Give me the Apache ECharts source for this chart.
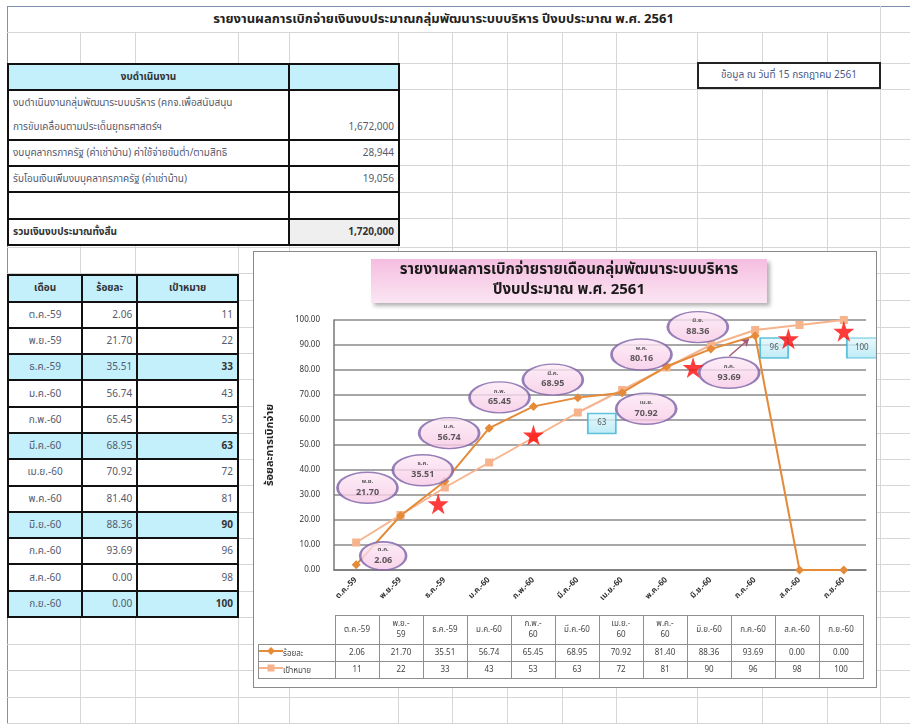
<!DOCTYPE html>
<html>
<head>
<meta charset="utf-8">
<script src="https://cdn.jsdelivr.net/npm/echarts@6/dist/echarts.min.js"></script>
<style>
  body { margin: 0; background: #fff; font-family: Tahoma, 'Noto Sans Thai', 'DejaVu Sans', sans-serif; }
  #sheet { position: relative; width: 910px; height: 724px; overflow: hidden; background: #fff; }
  .gl { position: absolute; background: #d6d6d6; }
  .tbl { position: absolute; border-collapse: collapse; background: #fff; font-size: 10px; color: #555a6e; }
  .tbl td { border: 2px solid #111; padding: 0 4px; white-space: nowrap; overflow: hidden; }
  .hd { background: #c4f0fc; font-weight: bold; text-align: center; color: #333; }
  .num { text-align: right; }
  .ctr { text-align: center; }
  .q { background: #c4f0fc; }
  #title { position: absolute; left: 7px; top: 6px; width: 873px; height: 26px; line-height: 26px;
    text-align: center; font-weight: bold; font-size: 13px; color: #222; }
  #datebox { position: absolute; left: 697px; top: 62px; width: 180px; height: 23px; line-height: 23px;
    border: 2px solid #222; background: #fff; text-align: center; font-size: 10px; color: #4a5a8a; }
  #chartbox { position: absolute; left: 253px; top: 251px; width: 622px; height: 435px;
    border: 1px solid #8a8a8a; background: #fff; }
  #chart { position: absolute; left: 0; top: 0; width: 622px; height: 435px; }
  #dtab { position: absolute; left: 4px; top: 363px; border-collapse: collapse; font-size: 8px; color: #444; }
  #dtab td { border: 1px solid #8f8f8f; text-align: center; padding: 0; line-height: 11px; }
  #dtab td.blank { border: none; }
</style>
</head>
<body>
<div id="sheet">
  <div id="title">รายงานผลการเบิกจ่ายเงินงบประมาณกลุ่มพัฒนาระบบบริหาร ปีงบประมาณ พ.ศ. 2561</div>
  <div id="datebox">ข้อมูล ณ วันที่ 15 กรกฎาคม 2561</div>
  <div id="chartbox">
    <div id="chart"></div>
  </div>
</div>
<script>
// ---- data ----
const months = ['ต.ค.-59', 'พ.ย.-59', 'ธ.ค.-59', 'ม.ค.-60', 'ก.พ.-60', 'มี.ค.-60',
                'เม.ย.-60', 'พ.ค.-60', 'มิ.ย.-60', 'ก.ค.-60', 'ส.ค.-60', 'ก.ย.-60'];
const pct = [2.06, 21.70, 35.51, 56.74, 65.45, 68.95, 70.92, 81.40, 88.36, 93.69, 0.00, 0.00];
const target = [11, 22, 33, 43, 53, 63, 72, 81, 90, 96, 98, 100];

const budgetItems = ['งบดำเนินงานกลุ่มพัฒนาระบบบริหาร (คกจ.เพื่อสนับสนุน<br>การขับเคลื่อนตามประเด็นยุทธศาสตร์ฯ',
                     'งบบุคลากรภาครัฐ (ค่าเช่าบ้าน) ค่าใช้จ่ายขั้นต่ำ/ตามสิทธิ',
                     'รับโอนเงินเพิ่มงบบุคลากรภาครัฐ (ค่าเช่าบ้าน)'];
const budgetValues = [1672000, 28944, 19056];

// callouts on the ร้อยละ line (month index, text shown)
const calloutIdx = [0, 1, 2, 3, 4, 5, 6, 7, 8, 9];
const calloutText = ['2.06', '21.70', '35.51', '56.74', '65.45', '68.95', '70.92', '80.16', '88.36', '93.69'];
// boxes on the เป้าหมาย line
const boxIdx = [5, 9, 11];
// red stars (position on month scale, percent)
const starX = [1.85, 4.0, 7.6, 9.75, 11.0];
const starY = [26.5, 54, 81, 92.5, 95.5];

// ---- layout only ----
const calloutOffset = [[27,-9],[-33,-28],[-22,-11],[-40,5],[-34,-9],[-25,-18],[24,16],[-25,-12],[-13,-22],[-26,37]];
const boxOffset = [[24,11],[19,18],[18,28]];
const wrapIdx = [1, 4, 6, 7];

// spreadsheet grid lines
const sheet = document.getElementById('sheet');
const colX = [7, 80, 135, 238, 289, 398, 452, 507, 562, 616, 697, 762, 827, 880];
const rowY = [32, 63, 89, 139, 165, 192, 218, 247, 273, 300, 327, 353, 379, 406, 433, 459, 485, 512, 538, 564, 591, 617, 644, 670, 697, 723];
function line(x, y, w, h, color) {
  const d = document.createElement('div');
  d.className = 'gl';
  d.style.left = x + 'px'; d.style.top = y + 'px';
  d.style.width = w + 'px'; d.style.height = h + 'px';
  if (color) d.style.background = color;
  sheet.insertBefore(d, sheet.firstChild);
}
rowY.forEach(y => line(7, y, 903, 1));
colX.forEach(x => {
  if (x === 7) line(x, 6, 1, 718, '#7f8fae');
  else if (x === 880) line(x, 6, 1, 718);
  else line(x, 32, 1, 692);
});
line(7, 6, 903, 1, '#7f8fae');

// budget table
let h = '<tr style="height:26px"><td class="hd" style="width:273px">งบดำเนินงาน</td><td class="hd" style="width:102px"></td></tr>';
const rowH = [50, 26, 26];
budgetItems.forEach((t, i) => {
  h += '<tr style="height:' + rowH[i] + 'px"><td style="line-height:24px">' + t + '</td><td class="num" style="vertical-align:bottom;line-height:24px">' +
       budgetValues[i].toLocaleString('en-US') + '</td></tr>';
});
h += '<tr style="height:27px"><td></td><td></td></tr>';
const total = budgetValues.reduce((a, b) => a + b, 0);
h += '<tr style="height:26px"><td style="font-weight:bold;color:#333">รวมเงินงบประมาณทั้งสิ้น</td><td class="num" style="font-weight:bold;color:#333;background:#efefef">' +
     total.toLocaleString('en-US') + '</td></tr>';
const bt = document.createElement('table');
bt.className = 'tbl'; bt.style.left = '7px'; bt.style.top = '63px'; bt.style.width = '393px';
bt.innerHTML = h;
sheet.appendChild(bt);

// month table
let m = '<tr style="height:26.5px"><td class="hd" style="width:66px">เดือน</td><td class="hd" style="width:46px">ร้อยละ</td><td class="hd" style="width:94px">เป้าหมาย</td></tr>';
months.forEach((mo, i) => {
  const q = (i % 3 === 2) ? ' q' : '';
  const b = (i % 3 === 2) ? 'font-weight:bold;color:#333;' : '';
  m += '<tr style="height:26.3px"><td class="ctr' + q + '">' + mo + '</td><td class="num' + q + '">' + pct[i].toFixed(2) +
       '</td><td class="num' + q + '" style="' + b + '">' + target[i] + '</td></tr>';
});
const mt = document.createElement('table');
mt.className = 'tbl'; mt.style.left = '7px'; mt.style.top = '274px'; mt.style.width = '232px';
mt.innerHTML = m;
sheet.appendChild(mt);

// data table under the chart
const key1 = '<svg width="24" height="10"><line x1="0" y1="5" x2="24" y2="5" stroke="#e48a38" stroke-width="2"/><path d="M12 1 L16 5 L12 9 L8 5 Z" fill="#e48a38"/></svg>';
const key2 = '<svg width="24" height="10"><line x1="0" y1="5" x2="24" y2="5" stroke="#f6b38c" stroke-width="2"/><rect x="8.5" y="1.5" width="7" height="7" fill="#f6b38c"/></svg>';
let d = '<tr style="height:29px"><td class="blank" style="width:76px"></td>';
months.forEach((mo, i) => {
  const txt = wrapIdx.indexOf(i) >= 0 ? mo.replace('-', '-<br>') : mo;
  d += '<td style="width:43px">' + txt + '</td>';
});
d += '</tr><tr style="height:17px"><td style="text-align:left">' + key1 + 'ร้อยละ</td>';
pct.forEach(v => { d += '<td>' + v.toFixed(2) + '</td>'; });
d += '</tr><tr style="height:17px"><td style="text-align:left">' + key2 + 'เป้าหมาย</td>';
target.forEach(v => { d += '<td>' + v + '</td>'; });
d += '</tr>';
const dt = document.createElement('table');
dt.id = 'dtab';
dt.innerHTML = d;
document.getElementById('chartbox').appendChild(dt);

// ---- chart ----
const chart = echarts.init(document.getElementById('chart'));
const ellipse = 'path://M0 50 A50 50 0 1 1 100 50 A50 50 0 1 1 0 50 Z';
const star = 'path://M50 0 L61 35 L98 35 L68 57 L79 91 L50 70 L21 91 L32 57 L2 35 L39 35 Z';

const calloutData = calloutIdx.map((idx, k) => ({
  value: [idx, pct[idx]],
  symbolOffset: calloutOffset[k],
  symbolSize: k === 0 ? [46, 28] : [60, 31],
  label: {
    formatter: '{m|' + months[idx].split('-')[0] + '}\n{v|' + calloutText[k] + '}'
  }
}));
const boxData = boxIdx.map((idx, k) => ({
  value: [idx, target[idx]],
  symbolOffset: boxOffset[k],
  symbolSize: idx === 11 ? [30, 20] : [28, 20],
  label: { formatter: String(target[idx]) }
}));

chart.setOption({
  animation: false,
  textStyle: { fontFamily: "Tahoma, 'Noto Sans Thai', 'DejaVu Sans', sans-serif" },
  graphic: [{
    type: 'group',
    children: [{
      type: 'rect',
      shape: { x: 117, y: 7, width: 396, height: 44 },
      style: {
        fill: new echarts.graphic.LinearGradient(0, 0, 0, 1, [
          { offset: 0, color: '#f5bde0' }, { offset: 1, color: '#fbe6f3' }]),
        shadowBlur: 4, shadowOffsetX: 3, shadowOffsetY: 3, shadowColor: 'rgba(0,0,0,0.3)'
      }
    }, {
      type: 'text',
      style: {
        x: 315, y: 29, text: 'รายงานผลการเบิกจ่ายรายเดือนกลุ่มพัฒนาระบบบริหาร\nปีงบประมาณ พ.ศ. 2561',
        align: 'center', verticalAlign: 'middle', font: "bold 15px Tahoma, 'Noto Sans Thai', sans-serif",
        fill: '#1a1a1a', lineHeight: 20
      }
    }]
  }],
  grid: { left: 80, top: 68, width: 532, height: 250 },
  xAxis: [{
    type: 'category',
    data: months,
    axisLine: { lineStyle: { color: '#777', width: 1.5 } },
    axisTick: { show: false },
    axisLabel: { rotate: 45, fontSize: 8, fontWeight: 'bold', color: '#333', margin: 9 }
  }, {
    type: 'value', min: -0.5, max: 11.5, show: false
  }],
  yAxis: {
    type: 'value', min: 0, max: 100, interval: 10,
    name: 'ร้อยละการเบิกจ่าย', nameLocation: 'middle', nameGap: 58,
    nameTextStyle: { fontSize: 11, fontWeight: 'bold', color: '#222' },
    axisLine: { show: true, onZero: false, lineStyle: { color: '#777', width: 1.5 } },
    axisTick: { show: false },
    axisLabel: { fontSize: 8, color: '#333', formatter: v => v.toFixed(2), margin: 14 },
    splitLine: { lineStyle: { color: '#8a8a8a', width: 1.5 } }
  },
  series: [{
    name: 'เป้าหมาย', type: 'line', data: target,
    symbol: 'rect', symbolSize: 8, showAllSymbol: true,
    itemStyle: { color: '#f6b38c' }, lineStyle: { color: '#f6b38c', width: 2 }, z: 2
  }, {
    name: 'ร้อยละ', type: 'line', data: pct,
    symbol: 'diamond', symbolSize: 9, showAllSymbol: true,
    itemStyle: { color: '#e48a38' }, lineStyle: { color: '#e48a38', width: 2 }, z: 3
  }, {
    name: 'callout', type: 'scatter', data: calloutData, z: 5,
    symbol: ellipse,
    itemStyle: {
      color: new echarts.graphic.LinearGradient(0, 0, 0, 1, [
        { offset: 0, color: '#fdeaf6' }, { offset: 1, color: '#f6c7e4' }]),
      borderColor: '#7d62a6', borderWidth: 2
    },
    label: {
      show: true, position: 'inside', lineHeight: 11,
      rich: {
        m: { fontSize: 6, fontWeight: 'bold', color: '#333', lineHeight: 10 },
        v: { fontSize: 9, fontWeight: 'bold', color: '#333', lineHeight: 12 }
      }
    }
  }, {
    name: 'box', type: 'scatter', data: boxData, z: 5,
    symbol: 'rect',
    itemStyle: {
      color: new echarts.graphic.LinearGradient(0, 0, 0, 1, [
        { offset: 0, color: '#e4f8fd' }, { offset: 1, color: '#aee6f5' }]),
      borderColor: '#3cb3d3', borderWidth: 1.5
    },
    label: { show: true, position: 'inside', fontSize: 8, color: '#333' }
  }, {
    name: 'star', type: 'scatter', xAxisIndex: 1, z: 6,
    data: starX.map((x, i) => [x, starY[i]]),
    symbol: star, symbolSize: 21,
    itemStyle: { color: '#ff0a0a' },
    markLine: {
      silent: true, symbol: ['none', 'arrow'], symbolSize: 7,
      label: { show: false },
      lineStyle: { color: '#a65a78', width: 1.5, type: 'solid' },
      data: [[{ coord: [8.42, 85.6] }, { coord: [8.86, 92.4] }]]
    }
  }]
});
</script>
</body>
</html>
